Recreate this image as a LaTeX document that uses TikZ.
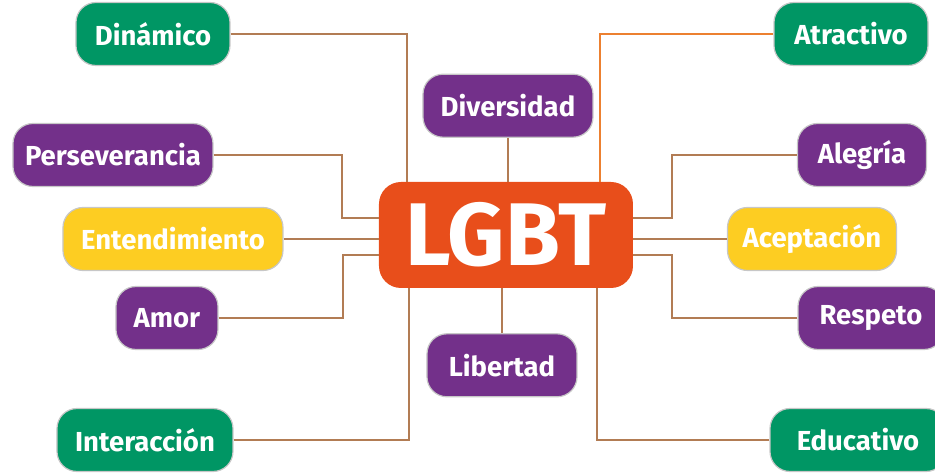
\documentclass[tikz,border=0pt]{standalone}
\usepackage{fontspec}
\setsansfont{Fira Sans}
\usetikzlibrary{positioning}
\definecolor{verde}{RGB}{0,150,100}
\definecolor{morado}{RGB}{115,48,138}
\definecolor{amarillo}{RGB}{253,205,34}
\definecolor{naranja}{RGB}{232,78,27}
\definecolor{cafe}{RGB}{178,124,84}
\definecolor{naranjaclaro}{RGB}{236,128,48}
\tikzset{
    node distance=340pt,
    word/.style={
        rounded corners=20pt,
        draw=black!22,
        line width=1.2pt,
        minimum height=63pt,
        inner sep=0pt,
        text=white,
        font=\sffamily\bfseries\fontsize{27.5}{30}\selectfont
    },
    link/.style={
        draw=cafe,
        line width=2.4pt
    }
}

\begin{document}
\begin{tikzpicture}[center node/.style={fill=naranja, rounded corners=22pt, minimum width=254pt, minimum height=106pt, inner sep=0pt, text=white, font=\sffamily\bfseries\fontsize{89}{89}\selectfont}]
                    \useasboundingbox (-506pt,-241pt) rectangle (429pt,235pt);
                    \node[center node] (lgbt) at (0,0) {LGBT};
                    \node[word, fill=verde, minimum width=154pt, left of = lgbt, xshift=-13pt, yshift=201pt] (dinamico) {Dinámico};
                    \node[word, fill=morado, minimum width=200pt, left of = lgbt, xshift=-53pt, yshift=80pt] (perseverancia) {Perseverancia};
                    \node[word, fill=amarillo, minimum width=220pt, left of = lgbt, xshift=7pt, yshift=-4pt] (entendimiento) {Entendimiento};
                    \node[word, fill=morado, minimum width=102pt, left of = lgbt, xshift=1pt, yshift=-83pt] (amor) {Amor};
                    \node[word, fill=verde, minimum width=176pt, left of = lgbt, xshift=-21pt, yshift=-205pt] (interaccion) {Interacción};
                    \node[word, fill=morado, minimum width=170pt, above=44pt of lgbt, xshift=2pt] (diversidad) {Diversidad};
                    \node[word, fill=morado, minimum width=150pt, below=45pt of lgbt, xshift=-4pt] (libertad) {Libertad};
                    \node[word, fill=verde, minimum width=154pt, right of = lgbt, xshift=5pt, yshift=201pt] (atractivo) {Atractivo};
                    \node[word, fill=morado, minimum width=129pt, right of = lgbt, xshift=16pt, yshift=80pt] (alegria) {Alegría};
                    \node[word, fill=amarillo, minimum width=169pt, right of = lgbt, xshift=-34pt, yshift=-4pt] (aceptacion) {Aceptación};
                    \node[word, fill=morado, minimum width=146pt, right of = lgbt, xshift=25pt, yshift=-83pt] (respeto) {Respeto};
                    \node[word, fill=verde, minimum width=176pt, right of = lgbt, xshift=12pt, yshift=-205pt] (educativo) {Educativo};

                    \draw[link] (dinamico) -| ([xshift=28pt]lgbt.north west);
                    \draw[link] (perseverancia) -| ([xshift=-37pt, yshift=17pt]lgbt.west) -- ([yshift=17pt]lgbt.west);
                    \draw[link] (entendimiento.east) -- (entendimiento.east -| lgbt.west);
                    \draw[link] (amor) -| ([xshift=-36pt, yshift=-20pt]lgbt.west) -- ([yshift=-20pt]lgbt.west);
                    \draw[link] (interaccion) -| ([xshift=30pt]lgbt.south west);
                    \draw[link] (diversidad.south) -- (diversidad.south |- lgbt.north);
                    \draw[link] (libertad.north) -- (libertad.north |- lgbt.south);
                    \draw[link, draw=naranjaclaro, line width=1.6pt] (atractivo) -| ([xshift=-33pt]lgbt.north east);
                    \draw[link] (alegria) -| ([xshift=39pt, yshift=17pt]lgbt.east) -- ([yshift=17pt]lgbt.east);
                    \draw[link] (aceptacion.west) -- (aceptacion.west -| lgbt.east);
                    \draw[link] (respeto) -| ([xshift=39pt, yshift=-20pt]lgbt.east) -- ([yshift=-20pt]lgbt.east);
                    \draw[link] (educativo) -| ([xshift=-36pt]lgbt.south east);
                \end{tikzpicture}
\end{document}
